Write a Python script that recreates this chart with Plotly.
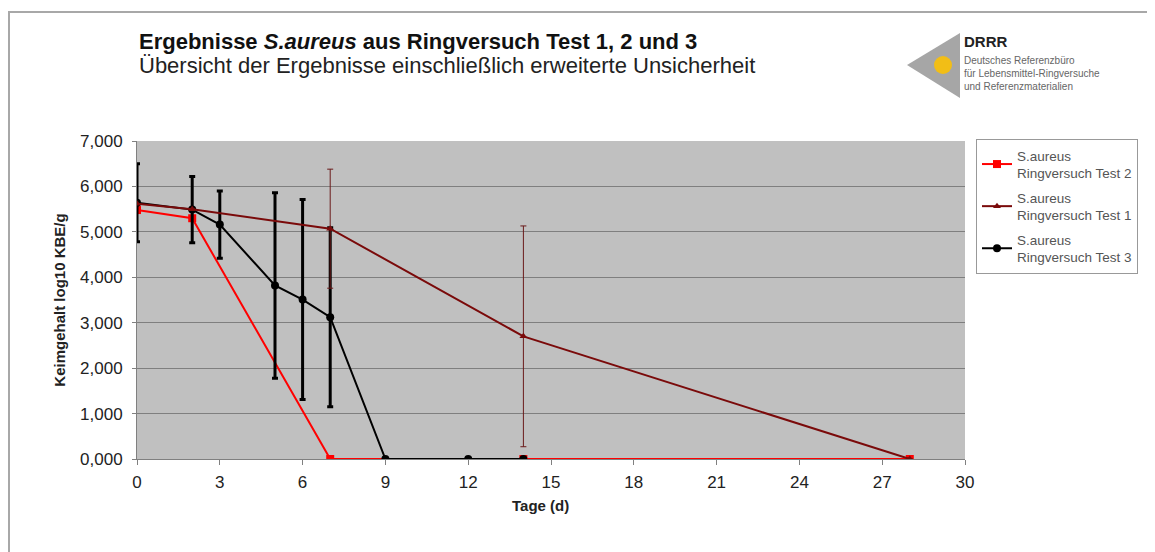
import plotly.graph_objects as go

# Ringversuch Test 2 (red, squares)
days_t2 = [0, 2, 7, 14, 28]
vals_t2 = [5.48, 5.30, 0.0, 0.0, 0.0]

# Ringversuch Test 1 (dark red, triangles)
days_t1 = [0, 2, 7, 14, 28]
vals_t1 = [5.62, 5.50, 5.07, 2.70, 0.0]
err_t1 = [None, None, 1.31, 2.43, None]

# Ringversuch Test 3 (black, circles)
days_t3 = [0, 2, 3, 5, 6, 7, 9, 12, 14]
vals_t3 = [5.64, 5.49, 5.16, 3.82, 3.51, 3.12, 0.0, 0.0, 0.0]
err_t3 = [0.86, 0.73, 0.74, 2.04, 2.20, 1.97, None, None, None]

x_ticks = [0, 3, 6, 9, 12, 15, 18, 21, 24, 27, 30]
y_ticks = [0, 1, 2, 3, 4, 5, 6, 7]

# plot area in page pixels (the page body adds an 8px offset)
L, R, T, B = 137, 965, 141, 459
OFF = 8


def px(x):
    return (x - L) / (R - L)


def py(y):
    return (B - y) / (B - T)


fig = go.Figure()
fig.add_trace(go.Scatter(
    x=days_t2, y=vals_t2, mode="lines+markers",
    name="S.aureus<br>Ringversuch Test 2", legendrank=1, legendgroup="a",
    line=dict(color="#FF0000", width=2),
    marker=dict(symbol="square", size=8, color="#FF0000"),
))
fig.add_trace(go.Scatter(
    x=days_t3, y=vals_t3, mode="lines+markers",
    name="S.aureus<br>Ringversuch Test 3", legendrank=3, legendgroup="c",
    line=dict(color="#000000", width=2),
    marker=dict(symbol="circle", size=8, color="#000000"),
    error_y=dict(type="data", array=err_t3, color="#000000", thickness=3, width=3),
))
fig.add_trace(go.Scatter(
    x=days_t1, y=vals_t1, mode="lines+markers",
    name="S.aureus<br>Ringversuch Test 1", legendrank=2, legendgroup="b",
    line=dict(color="#7A0A0A", width=2),
    marker=dict(symbol="triangle-up", size=7, color="#7A0A0A"),
    error_y=dict(type="data", array=err_t1, color="#6A1A1A", thickness=1, width=3),
))

shapes = [
    # outer frame
    dict(type="rect", xref="paper", yref="paper", x0=px(9), x1=px(1170), y0=py(570), y1=py(12),
         line=dict(color="#A8A8A8", width=2), layer="below"),
    # logo triangle
    dict(type="path", xref="paper", yref="paper",
         path=f"M {px(907)} {py(65)} L {px(960)} {py(33)} L {px(960)} {py(98)} Z",
         fillcolor="#A6A6A6", line=dict(width=0)),
    dict(type="circle", xref="paper", yref="paper",
         x0=px(934), x1=px(952), y0=py(74), y1=py(56),
         fillcolor="#F2BE16", line=dict(width=0)),
]

annotations = [
    dict(text="<b>Ergebnisse <i>S.aureus</i> aus Ringversuch Test 1, 2 und 3</b>",
         x=px(137), y=py(41), xanchor="left", yanchor="middle",
         font=dict(size=22, color="#111111")),
    dict(text="Übersicht der Ergebnisse einschließlich erweiterte Unsicherheit",
         x=px(137), y=py(66), xanchor="left", yanchor="middle",
         font=dict(size=22, color="#222222")),
    dict(text="<b>DRRR</b>", x=px(962), y=py(42), xanchor="left", yanchor="middle",
         font=dict(size=15, color="#222222")),
    dict(text="Deutsches Referenzbüro<br>für Lebensmittel-Ringversuche<br>und Referenzmaterialien",
         x=px(962), y=py(53), xanchor="left", yanchor="top", align="left",
         font=dict(size=10, color="#666666")),
    dict(text="<b>Tage (d)</b>", x=px(540), y=py(505), xanchor="center", yanchor="middle",
         font=dict(size=15, color="#222222")),
]
for a in annotations:
    a.update(xref="paper", yref="paper", showarrow=False)

fig.update_layout(
    width=1155, height=552,
    margin=dict(l=L - OFF, r=1155 - R + OFF, t=T - OFF, b=552 - B + OFF),
    paper_bgcolor="white", plot_bgcolor="#C0C0C0",
    separators=",.",
    font=dict(family="Liberation Sans, Arial, sans-serif", size=17, color="#222222"),
    showlegend=True,
    legend=dict(x=px(976), y=py(139), xanchor="left", yanchor="top",
                bgcolor="white", bordercolor="#999999", borderwidth=1,
                font=dict(size=13.5, color="#555555"), tracegroupgap=4,
                itemwidth=30),
    shapes=shapes, annotations=annotations,
    xaxis=dict(range=[0, 30], tickvals=x_ticks, showgrid=False, zeroline=False,
               showline=True, linecolor="#808080", ticks="outside", ticklen=5, tickcolor="#808080",
               ticklabelstandoff=3),
    yaxis=dict(range=[0, 7], tickvals=y_ticks, tickformat=".3f", showgrid=True,
               gridcolor="#7F7F7F", gridwidth=1, zeroline=False,
               showline=True, linecolor="#808080", ticks="outside", ticklen=4, tickcolor="#808080",
               ticklabelstandoff=6,
               title=dict(text="<b>Keimgehalt log10 KBE/g</b>", font=dict(size=15), standoff=10)),
)

fig.write_html("out.html")
